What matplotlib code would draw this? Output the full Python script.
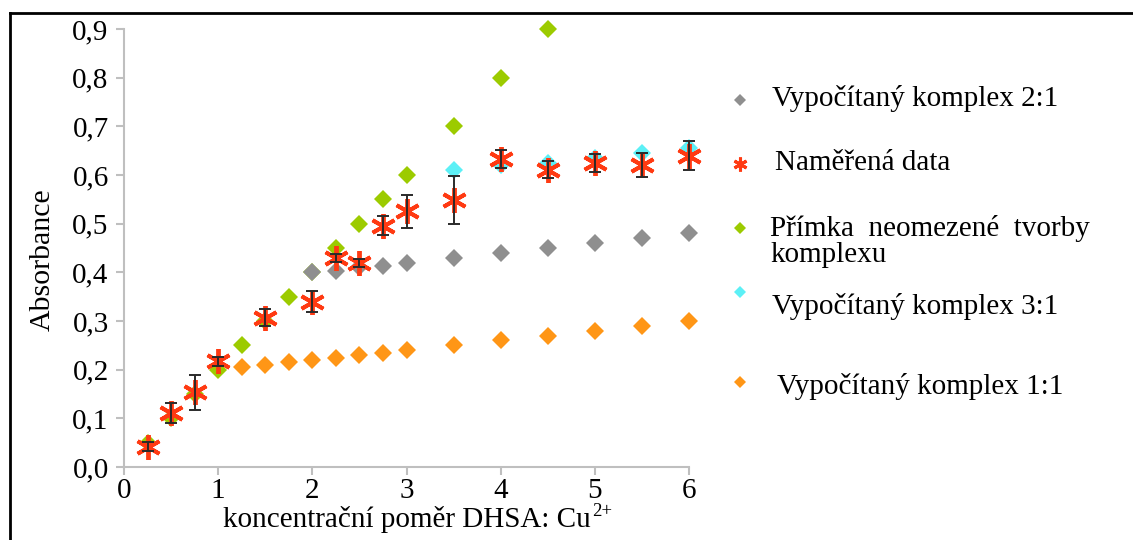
import numpy as np
import matplotlib.pyplot as plt
from matplotlib.lines import Line2D

plt.rcParams['font.family'] = ['Liberation Serif', 'DejaVu Serif']

# komplex 2:1 (vypocet)
x21 = [2, 2.25, 2.5, 2.75, 3, 3.5, 4, 4.5, 5, 5.5, 6]
y21 = [0.40, 0.402, 0.41, 0.414, 0.42, 0.43, 0.44, 0.45, 0.46, 0.47, 0.48]

# primka neomezene tvorby komplexu
xlin = [0.25, 0.5, 0.75, 1, 1.25, 1.5, 1.75, 2, 2.25, 2.5, 2.75, 3, 3.5, 4, 4.5]
ylin = [0.05, 0.10, 0.15, 0.20, 0.25, 0.30, 0.35, 0.40, 0.45, 0.50, 0.55, 0.60, 0.70, 0.80, 0.90]

# komplex 3:1 (vypocet)
x31 = [3.5, 4, 4.5, 5, 5.5, 6]
y31 = [0.61, 0.62, 0.625, 0.635, 0.645, 0.655]

# komplex 1:1 (vypocet)
x11 = [1.25, 1.5, 1.75, 2, 2.25, 2.5, 2.75, 3, 3.5, 4, 4.5, 5, 5.5, 6]
y11 = [0.205, 0.21, 0.215, 0.22, 0.225, 0.23, 0.235, 0.24, 0.25, 0.26, 0.27, 0.28, 0.29, 0.30]

# namerena data + smerodatne odchylky
xm = [0.25, 0.5, 0.75, 1, 1.5, 2, 2.25, 2.5, 2.75, 3, 3.5, 4, 4.5, 5, 5.5, 6]
ym = [0.042, 0.111, 0.154, 0.217, 0.307, 0.340, 0.429, 0.419, 0.496, 0.525, 0.549, 0.633, 0.611, 0.625, 0.621, 0.640]
em = [0.010, 0.021, 0.036, 0.010, 0.018, 0.021, 0.008, 0.008, 0.020, 0.034, 0.049, 0.019, 0.017, 0.018, 0.025, 0.030]

c_grey = '#8f8f8f'
c_red = '#ff3a12'
c_green = '#9ccb00'
c_cyan = '#5cf0f6'
c_orange = '#ff9616'

W, H = 1133, 540
fig = plt.figure(figsize=(W / 100, H / 100), dpi=100)
ax = fig.add_axes([124 / W, 1 - 467 / H, 565 / W, 438 / H])

kw = dict(ls='none', ms=9, mew=0, clip_on=False)
ax.plot(xlin, ylin, marker='D', color=c_green, zorder=2, **kw)
ax.plot(x21, y21, marker='D', color=c_grey, zorder=3, **kw)
ax.plot(x31, y31, marker='D', color=c_cyan, zorder=3, **kw)
ax.plot(x11, y11, marker='D', color=c_orange, zorder=3, **kw)
ax.plot(xm, ym, marker=(6, 2, 0), ls='none', color=c_red, ms=18, mew=2.8,
        zorder=4, clip_on=False)
ax.errorbar(xm, ym, yerr=em, fmt='none', ecolor='#2a2a2a', elinewidth=1.4,
            capsize=4, capthick=1.4, zorder=5, clip_on=False)

ax.set_xlim(0, 6)
ax.set_ylim(0, 0.9)
ax.set_xticks(range(7))
ax.set_xticklabels([str(i) for i in range(7)])
ax.set_yticks(np.arange(0, 0.91, 0.1))
ax.set_yticklabels([f'{v:.1f}'.replace('.', ',') for v in np.arange(0, 0.91, 0.1)])
for lbl in ax.get_xticklabels() + ax.get_yticklabels():
    lbl.set_fontfamily('Liberation Serif')
for s in ['top', 'right']:
    ax.spines[s].set_visible(False)
for s in ['left', 'bottom']:
    ax.spines[s].set_color('#bfbfbf')
    ax.spines[s].set_linewidth(1.5)
ax.tick_params(direction='out', length=6, width=1.5, color='#bfbfbf',
               labelsize=21)
ax.tick_params(axis='x', pad=2)
ax.tick_params(axis='y', pad=5)

# popisek osy x s horním indexem
xl = fig.text(223 / W, 1 - 527 / H, 'koncentrační poměr DHSA: Cu', fontsize=21,
              ha='left', va='baseline')
fig.canvas.draw()
bb = xl.get_window_extent()
fig.text(bb.x1 / W + 0.001, 1 - 516 / H, '2+', fontsize=13.5,
         ha='left', va='baseline')

fig.text(43 / W, 1 - 260 / H, 'Absorbance', fontsize=21.5, rotation=90,
         ha='center', va='center')

# legenda
labels = ['Vypočítaný komplex 2:1', 'Naměřená data',
          'Přímka  neomezené  tvorby\nkomplexu', 'Vypočítaný komplex 3:1',
          'Vypočítaný komplex 1:1']
colors = [c_grey, c_red, c_green, c_cyan, c_orange]
markers = ['D', (6, 2, 0), 'D', 'D', 'D']
mark_y = [100, 164, 228, 292, 382]
text_y = [98, 163, 241, 307, 387]
text_x = [772, 775, 770, 772, 777]
for lab, col, mk, my, ty, tx in zip(labels, colors, markers, mark_y, text_y, text_x):
    if mk == 'D':
        fig.add_artist(Line2D([740 / W], [1 - my / H], marker='D', color=col,
                              ms=6.5, mew=0, transform=fig.transFigure))
    else:
        fig.add_artist(Line2D([740 / W], [1 - my / H], marker=mk, color=col,
                              ms=10, mew=2.2, transform=fig.transFigure))
    fig.text(tx / W, 1 - ty / H, lab, fontsize=21, ha='left', va='center',
             linespacing=1.0)

# ramecek
fig.add_artist(Line2D([10 / W, 1], [1 - 13 / H, 1 - 13 / H], color='black',
                      lw=2, transform=fig.transFigure))
fig.add_artist(Line2D([10 / W, 10 / W], [0, 1 - 13 / H], color='black',
                      lw=2, transform=fig.transFigure))

fig.savefig('out.png', dpi=100)
